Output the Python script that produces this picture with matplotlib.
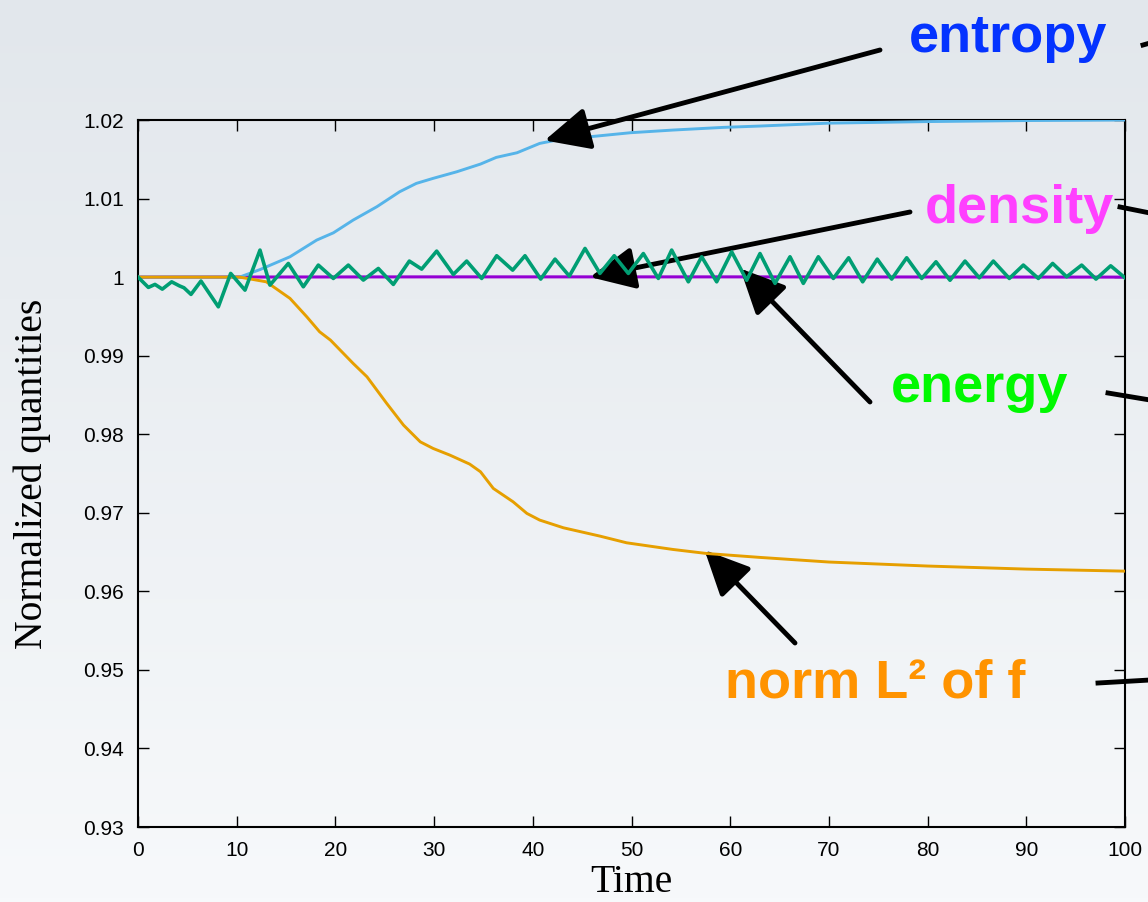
import numpy as np
import matplotlib
matplotlib.use("Agg")
import matplotlib.pyplot as plt
from matplotlib.lines import Line2D

# data
entropy_t = [0, 10.3, 12.4, 15.4, 18.1, 19.8, 21.8, 24.2, 26.5, 28.2, 29.9, 32.3, 34.7,
             36.3, 38.4, 40.7, 42.4, 45.8, 49.9, 54.2, 59.3, 63.0, 70, 80, 90, 100]
entropy_v = [1.0, 1.0, 1.00098, 1.00259, 1.00471, 1.00564, 1.00726, 1.00896, 1.01086,
             1.01193, 1.01257, 1.01341, 1.01439, 1.01524, 1.01583, 1.01702, 1.01744,
             1.01787, 1.01838, 1.01872, 1.01906, 1.01923, 1.0196, 1.0198, 1.01993, 1.0200]

norm_t = [0, 10.3, 13.0, 15.4, 17.1, 18.4, 19.5, 21.8, 23.2, 25.2, 26.9, 28.6, 29.9, 31.6,
          33.6, 34.7, 36.0, 38.0, 39.4, 40.7, 43.1, 46.8, 49.5, 54.2, 57.6, 63.0, 70, 80, 90, 100]
norm_v = [1.0, 1.0, 0.9994, 0.99729, 0.99495, 0.99304, 0.99198, 0.98901, 0.98731, 0.98392,
          0.98116, 0.97903, 0.97819, 0.97734, 0.9762, 0.97522, 0.9731, 0.9714, 0.96992,
          0.96907, 0.96809, 0.96703, 0.96618, 0.96533, 0.96482, 0.96432, 0.96373, 0.96322,
          0.96283, 0.96257]

density_t = [0, 30, 60, 100]
density_v = [1.0, 1.00003, 1.00003, 1.0]

energy_t = [0.0, 1.05, 1.72, 2.46, 3.41, 4.19, 4.66, 5.37, 6.38, 8.14,
            9.39, 10.84, 12.36, 13.37, 15.23, 16.75, 18.27, 19.79, 21.31, 22.83,
            24.35, 25.87, 27.49, 28.74, 30.26, 31.95, 33.3, 34.82, 36.34, 37.96,
            39.21, 40.8, 42.25, 43.7, 45.29, 46.8, 48.25, 49.68, 51.2, 52.72,
            54.07, 55.76, 57.11, 58.63, 60.15, 61.67, 63.02, 64.54, 66.06, 67.41,
            68.93, 70.45, 72.0, 73.42, 74.9, 76.36, 77.88, 79.4, 80.85, 82.27,
            83.79, 85.24, 86.66, 88.28, 89.7, 91.22, 92.67, 94.09, 95.61, 97.06,
            98.55, 100.0]
energy_v = [1.0, 0.99869, 0.99907, 0.99847, 0.9994, 0.99889, 0.99864, 0.9978, 0.9995, 0.99622,
            1.00047, 0.99834, 1.00344, 0.99898, 1.00174, 0.99877, 1.00153, 0.99983, 1.00153, 0.99962,
            1.0011, 0.99907, 1.00204, 1.00102, 1.00331, 1.00034, 1.00204, 0.99983, 1.00272, 1.00089,
            1.00272, 0.99975, 1.00229, 1.00013, 1.00365, 1.00047, 1.00272, 1.00047, 1.003, 0.99983,
            1.00344, 0.9994, 1.00259, 0.9994, 1.00322, 0.9996, 1.003, 0.9992, 1.00259, 0.9992,
            1.00259, 0.99983, 1.00246, 0.9994, 1.00229, 0.99975, 1.00246, 0.99983, 1.00195, 0.9996,
            1.00204, 0.99991, 1.00204, 0.99983, 1.00153, 0.99983, 1.00174, 1.00004, 1.00153, 0.99975,
            1.00144, 0.99991]

x_ticks = [0, 10, 20, 30, 40, 50, 60, 70, 80, 90, 100]
y_ticks = [0.93, 0.94, 0.95, 0.96, 0.97, 0.98, 0.99, 1.0, 1.01, 1.02]
y_ticklabels = ["0.93", "0.94", "0.95", "0.96", "0.97", "0.98", "0.99", "1", "1.01", "1.02"]

W, H = 1148, 902
fig = plt.figure(figsize=(W / 100, H / 100), dpi=100)

# slide background: soft vertical gradient
bg = fig.add_axes([0, 0, 1, 1], zorder=-10)
top = np.array([226, 231, 236]) / 255
bot = np.array([247, 249, 251]) / 255
s = np.linspace(0, 1, 256)[:, None]
grad = top[None, :] * (1 - s) + bot[None, :] * s
bg.imshow(grad[:, None, :], aspect="auto", extent=[0, 1, 0, 1])
bg.set_xlim(0, 1)
bg.set_ylim(0, 1)
bg.axis("off")

ax = fig.add_axes([138 / W, 75 / H, 987 / W, 707 / H])
ax.set_facecolor("none")

ax.plot(density_t, density_v, color="#9400d3", lw=2.2, zorder=2)
ax.plot(entropy_t, entropy_v, color="#56b4e9", lw=2.1, zorder=3)
ax.plot(norm_t, norm_v, color="#e69f00", lw=2.1, zorder=4)
ax.plot(energy_t, energy_v, color="#009e73", lw=2.6, zorder=5, solid_joinstyle="round")

ax.set_xlim(0, 100)
ax.set_ylim(0.93, 1.02)
ax.set_xticks(x_ticks)
ax.set_yticks(y_ticks)
ax.set_yticklabels(y_ticklabels)
ax.tick_params(direction="in", length=8, width=1, top=True, right=True,
               labelsize=15, pad=10, colors="black")
for lab in ax.get_xticklabels() + ax.get_yticklabels():
    lab.set_family("Liberation Sans")
for sp in ax.spines.values():
    sp.set_linewidth(1.5)

ax.set_xlabel("Time", family="Liberation Serif", fontsize=28.5)
ax.set_ylabel("Normalized quantities", family="Liberation Serif", fontsize=28.5)
ax.xaxis.set_label_coords(0.5, -0.052)
ax.yaxis.set_label_coords(-0.088, 0.5)

# callouts
arrow = dict(arrowstyle="-|>,head_length=0.55,head_width=0.26", mutation_scale=50,
             lw=3.5, color="black", shrinkA=0, shrinkB=0)
callouts = [
    ("entropy", "#0433ff", (1008, 52), (880, 50), (41.2, 1.0174)),
    ("density", "#ff40ff", (1019, 223), (910, 212), (45.8, 1.0)),
    ("energy", "#00f900", (980, 402), (870, 402), (61.0, 1.0011)),
    ("norm L² of f", "#ff9300", (875, 697), (795, 643), (57.4, 0.96525)),
]
for label, col, (tx, ty), (ax0, ay0), tip in callouts:
    fig.text(tx / W, 1 - ty / H, label, color=col, fontsize=39, fontweight="bold",
             family="Liberation Sans", ha="center", va="baseline")
    ax.annotate("", xy=tip, xycoords="data", xytext=(ax0, H - ay0),
                textcoords="figure pixels", arrowprops=arrow, annotation_clip=False)

# lines running off the right edge of the slide
for (x1, y1), (x2, y2) in [((1143, 45), (1150, 43)), ((1120, 207), (1150, 213)),
                           ((1108, 393), (1150, 400)), ((1098, 683), (1150, 680))]:
    fig.add_artist(Line2D([x1 / W, x2 / W], [1 - y1 / H, 1 - y2 / H],
                          transform=fig.transFigure, color="black", lw=3.5))

fig.savefig("out.png", dpi=100)
